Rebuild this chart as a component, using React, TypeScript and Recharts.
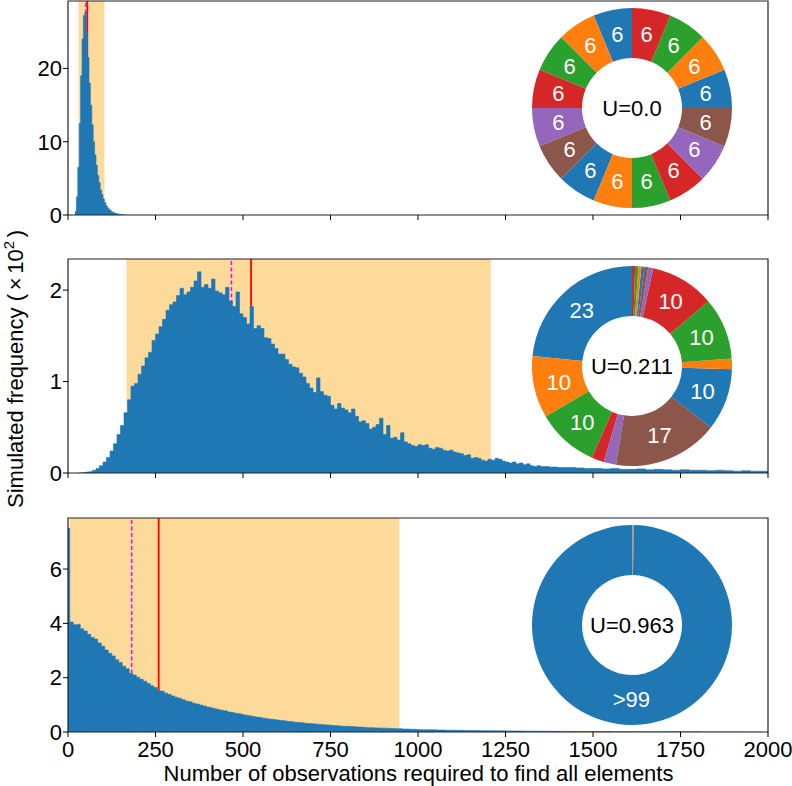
import React from 'react'
import {
  Area,
  Cell,
  ComposedChart,
  Label,
  Pie,
  PieChart,
  ReferenceArea,
  ReferenceLine,
  XAxis,
  YAxis,
} from 'recharts'

// histogram bins (values in units of 10^2)
const p1Start = 20
const p1Width = 4
const p1Counts = [
  0.5, 2.5, 6.5, 12.5, 19, 24, 27.2, 27.7, 25, 21.5, 18, 15, 12.3, 10, 8.2, 6.8, 5.4, 4.4, 3.4, 2.8,
  2.2, 1.7, 1.3, 1.0, 0.8, 0.6, 0.45, 0.35, 0.27, 0.2, 0.15, 0.11, 0.08, 0.05, 0.03, 0.02, 0.01,
]

const p2Start = 30
const p2Width = 10
const p2Counts = [
  0, 0.005, 0.01, 0.015, 0.03, 0.05, 0.08, 0.12, 0.17, 0.24,
  0.32, 0.42, 0.52, 0.66, 0.8, 0.95, 0.98, 1.08, 1.17, 1.26,
  1.32, 1.45, 1.52, 1.6, 1.68, 1.78, 1.84, 1.87, 1.94, 2.02,
  1.95, 1.98, 2.03, 2.1, 2.2, 2.03, 2.06, 2.02, 2.12, 1.99,
  1.97, 1.95, 2.03, 1.88, 1.82, 1.98, 1.74, 1.7, 1.63, 1.82,
  1.58, 1.61, 1.58, 1.48, 1.47, 1.41, 1.36, 1.3, 1.3, 1.24,
  1.19, 1.16, 1.15, 1.09, 1.05, 0.98, 0.93, 0.88, 1.04, 0.89,
  0.85, 0.84, 0.74, 0.7, 0.76, 0.71, 0.69, 0.66, 0.7, 0.62,
  0.56, 0.57, 0.54, 0.48, 0.5, 0.53, 0.6, 0.42, 0.52, 0.38,
  0.39, 0.36, 0.44, 0.34, 0.32, 0.3, 0.29, 0.31, 0.3, 0.31,
  0.27, 0.26, 0.28, 0.27, 0.25, 0.24, 0.25, 0.23, 0.22, 0.21,
  0.19, 0.2, 0.16, 0.17, 0.16, 0.14, 0.13, 0.15, 0.14, 0.16,
  0.15, 0.13, 0.12, 0.11, 0.12, 0.1, 0.11, 0.09, 0.1, 0.08,
  0.07, 0.08,
]
const p2TailStart = 1350
const p2TailWidth = 25
const p2TailCounts = [
  0.07, 0.065, 0.06, 0.06, 0.055, 0.05, 0.05, 0.045, 0.05, 0.04, 0.04, 0.045, 0.035,
  0.04, 0.035, 0.03, 0.035, 0.03, 0.03, 0.025, 0.03, 0.025, 0.02, 0.025, 0.02, 0.02,
]

const p3SpikeCounts = [7.5]
const p3Start = 5
const p3Width = 10
const p3Counts = [
  4.05, 3.95, 3.96, 3.8, 3.72, 3.6, 3.48, 3.42, 3.28, 3.16,
  3.02, 2.9, 2.8, 2.66, 2.56, 2.42, 2.33, 2.16, 2.1, 2.02,
  1.94, 1.87, 1.79, 1.7, 1.64, 1.52, 1.5, 1.43, 1.38, 1.33,
  1.28, 1.24, 1.19, 1.14, 1.11, 1.06, 1.03, 0.99, 0.96, 0.92,
  0.89, 0.86, 0.83, 0.8, 0.78, 0.74, 0.72, 0.69, 0.67, 0.64,
  0.62, 0.6, 0.57, 0.55, 0.53, 0.51, 0.49, 0.47, 0.46, 0.44,
  0.42, 0.41, 0.39, 0.38, 0.36, 0.35, 0.34, 0.32, 0.31, 0.3,
  0.29, 0.28, 0.27, 0.26, 0.25, 0.24, 0.23, 0.22, 0.21, 0.21,
  0.2, 0.19, 0.18, 0.18, 0.17, 0.16, 0.16, 0.15, 0.15, 0.14,
  0.14, 0.13, 0.13, 0.12, 0.12, 0.11, 0.11, 0.1, 0.1, 0.09,
]
const p3TailStart = 1005
const p3TailWidth = 25
const p3TailCounts = [
  0.085, 0.08, 0.072, 0.068, 0.062, 0.058, 0.052, 0.05, 0.045, 0.042, 0.038, 0.035, 0.032,
  0.03, 0.027, 0.025, 0.022, 0.02, 0.018, 0.017, 0.015, 0.014, 0.012, 0.011, 0.01, 0.009,
  0.008, 0.007, 0.007, 0.006, 0.005, 0.005, 0.004, 0.004, 0.003, 0.003, 0.003, 0.002, 0.002,
]

// shaded interval, median (dashed) and mean (solid)
const p1Band = [30, 104]
const p1Median = 51
const p1Mean = 55
const p2Band = [167, 1208]
const p2Median = 467
const p2Mean = 523
const p3Band = [5, 947]
const p3Median = 182
const p3Mean = 259

// donut insets (percent per element)
const p1Shares = [6.25, 6.25, 6.25, 6.25, 6.25, 6.25, 6.25, 6.25, 6.25, 6.25, 6.25, 6.25, 6.25, 6.25, 6.25, 6.25]
const p2Shares = [23.4, 10, 10, 2, 2, 17, 10, 1.7, 10, 10.4, 0.8, 0.6, 0.5, 0.5, 0.5, 0.5]
const p3Shares = [99.7, 0.02, 0.02, 0.02, 0.02, 0.02, 0.02, 0.02, 0.02, 0.02, 0.02, 0.02, 0.02, 0.02, 0.02, 0.02]
const uValues = ['U=0.0', 'U=0.211', 'U=0.963']

const xTicks = [0, 250, 500, 750, 1000, 1250, 1500, 1750, 2000]
const p1YTicks = [0, 10, 20]
const p2YTicks = [0, 1, 2]
const p3YTicks = [0, 2, 4, 6]

const COLORS = ['#1f77b4', '#ff7f0e', '#2ca02c', '#d62728', '#9467bd', '#8c564b']
const FONT = '"Liberation Sans", Arial, sans-serif'
const FS = 22
const PLOT_H = 214
const PAD_TOP = 5
const AXIS_H = 50
const CHART_H = PLOT_H + PAD_TOP + AXIS_H

type Seg = { start: number; width: number; counts: number[] }

const toSteps = (segs: Seg[]) => {
  const out: { x: number; y: number }[] = []
  segs.forEach((s) => s.counts.forEach((c, i) => out.push({ x: s.start + i * s.width, y: c })))
  const last = segs[segs.length - 1]
  out.push({ x: last.start + last.counts.length * last.width, y: last.counts[last.counts.length - 1] })
  return out
}

const p1Data = toSteps([{ start: p1Start, width: p1Width, counts: p1Counts }])
const p2Data = toSteps([
  { start: p2Start, width: p2Width, counts: p2Counts },
  { start: p2TailStart, width: p2TailWidth, counts: p2TailCounts },
])
const p3Data = toSteps([
  { start: 0, width: 5, counts: p3SpikeCounts },
  { start: p3Start, width: p3Width, counts: p3Counts },
  { start: p3TailStart, width: p3TailWidth, counts: p3TailCounts },
])

const RAD = Math.PI / 180

const sliceLabel = (props: any) => {
  const { cx, cy, midAngle, innerRadius, outerRadius, value } = props
  if (value < 5) return null
  const r = (innerRadius + outerRadius) / 2
  const x = cx + r * Math.cos(-midAngle * RAD)
  const y = cy + r * Math.sin(-midAngle * RAD)
  return (
    <text x={x} y={y} fill="#fff" fontSize={FS} textAnchor="middle" dominantBaseline="central" fontFamily={FONT}>
      {value > 99 ? '>99' : Math.round(value)}
    </text>
  )
}

const Donut = ({ shares, u, cy }: { shares: number[]; u: string; cy: number }) => {
  const data = shares.map((v, i) => ({ name: `e${i}`, value: v }))
  return (
    <div style={{ position: 'absolute', left: 632 - 110, top: cy - 110 }}>
      <PieChart width={220} height={220} margin={{ top: 0, right: 0, bottom: 0, left: 0 }}>
        <Pie
          data={data}
          dataKey="value"
          cx={110}
          cy={110}
          innerRadius={50}
          outerRadius={100}
          startAngle={90}
          endAngle={450}
          stroke="none"
          label={sliceLabel}
          labelLine={false}
          isAnimationActive={false}
        >
          {data.map((d, i) => (
            <Cell key={d.name} fill={COLORS[i % 6]} stroke="none" />
          ))}
          <Label value={u} position="center" fill="#000" fontSize={FS} fontFamily={FONT} />
        </Pie>
      </PieChart>
    </div>
  )
}

type PanelProps = {
  top: number
  data: { x: number; y: number }[]
  yMax: number
  yTicks: number[]
  band: number[]
  median: number
  mean: number
  showX: boolean
  shares: number[]
  u: string
}

const Panel = ({ top, data, yMax, yTicks, band, median, mean, showX, shares, u }: PanelProps) => (
  <>
    {/* background: shaded interval and the two vertical markers */}
    <div style={{ position: 'absolute', left: 0, top: top - PAD_TOP }}>
      <ComposedChart width={792} height={CHART_H} data={data} margin={{ top: PAD_TOP, right: 24, bottom: AXIS_H, left: 68 }}>
        <XAxis hide type="number" dataKey="x" domain={[0, 2000]} allowDataOverflow />
        <YAxis hide type="number" domain={[0, yMax]} allowDataOverflow />
        <Area dataKey="y" fill="none" stroke="none" isAnimationActive={false} />
        <ReferenceArea x1={band[0]} x2={band[1]} y1={0} y2={yMax} fill="#fdda9a" fillOpacity={1} stroke="none" />
        <ReferenceLine x={mean} stroke="#ff0000" strokeWidth={1.8} />
        <ReferenceLine x={median} stroke="#ff00ff" strokeWidth={1.5} strokeDasharray="4 2.5" />
      </ComposedChart>
    </div>
    {/* foreground: histogram, axes and frame */}
    <div style={{ position: 'absolute', left: 0, top: top - PAD_TOP }}>
      <ComposedChart width={792} height={CHART_H} data={data} margin={{ top: PAD_TOP, right: 24, bottom: 0, left: 0 }}>
        <XAxis
          type="number"
          dataKey="x"
          domain={[0, 2000]}
          ticks={xTicks}
          interval={0}
          height={AXIS_H}
          tickSize={5}
          tickMargin={4}
          stroke="#000"
          axisLine={false}
          tick={{ fontSize: FS, fill: '#000', fontFamily: FONT }}
          tickFormatter={(v: number) => (showX ? String(v) : '')}
          allowDataOverflow
        />
        <YAxis
          type="number"
          domain={[0, yMax]}
          ticks={yTicks}
          interval={0}
          width={68}
          tickSize={5}
          tickMargin={1}
          stroke="#000"
          axisLine={false}
          tick={{ fontSize: FS, fill: '#000', fontFamily: FONT }}
          allowDataOverflow
        />
        <Area
          type="stepAfter"
          dataKey="y"
          fill="#1f77b4"
          fillOpacity={1}
          stroke="#1f77b4"
          strokeWidth={0.6}
          dot={false}
          activeDot={false}
          isAnimationActive={false}
        />
        <ReferenceArea x1={0} x2={2000} y1={0} y2={yMax} fill="none" stroke="#222" strokeWidth={1.2} />
      </ComposedChart>
    </div>
    <Donut shares={shares} u={u} cy={top + 107} />
  </>
)

const App = () => (
  <div
    style={{
      position: 'absolute',
      left: 0,
      top: 0,
      width: 792,
      height: 786,
      background: '#fff',
      fontFamily: FONT,
      overflow: 'hidden',
    }}
  >
    <Panel top={0.5} data={p1Data} yMax={29.2} yTicks={p1YTicks} band={p1Band} median={p1Median} mean={p1Mean} showX={false} shares={p1Shares} u={uValues[0]} />
    <Panel top={259.3} data={p2Data} yMax={2.34} yTicks={p2YTicks} band={p2Band} median={p2Median} mean={p2Mean} showX={false} shares={p2Shares} u={uValues[1]} />
    <Panel top={518.3} data={p3Data} yMax={7.88} yTicks={p3YTicks} band={p3Band} median={p3Median} mean={p3Mean} showX={true} shares={p3Shares} u={uValues[2]} />
    <svg width={792} height={786} style={{ position: 'absolute', left: 0, top: 0, pointerEvents: 'none' }}>
      <text x={418.5} y={781} textAnchor="middle" fontSize={FS} fill="#000" fontFamily={FONT}>
        Number of observations required to find all elements
      </text>
      <text x={22.5} y={369} textAnchor="middle" fontSize={FS} fill="#000" fontFamily={FONT} transform="rotate(-90 22.5 369)">
        {'Simulated frequency (\u2006\u00d7\u200610'}
        <tspan dy={-9} fontSize={15}>2</tspan>
        <tspan dy={9}>{'\u2006)'}</tspan>
      </text>
    </svg>
  </div>
)

export default App
